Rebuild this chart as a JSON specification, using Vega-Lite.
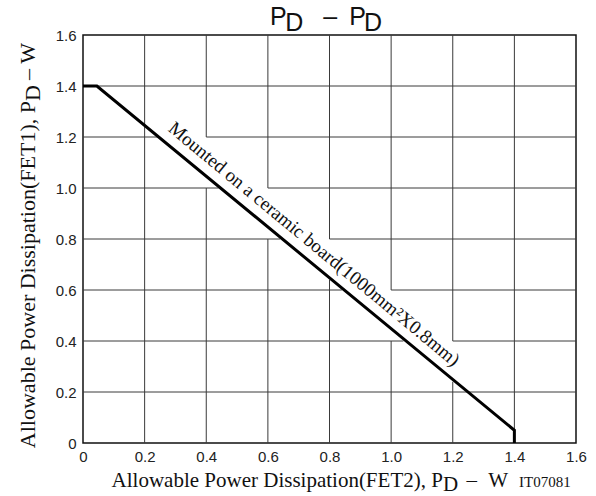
{
  "$schema": "https://vega.github.io/schema/vega-lite/v6.json",
  "width": 493,
  "height": 408,
  "autosize": "none",
  "padding": {"left": 83, "top": 35, "right": 20, "bottom": 53},
  "background": "white",
  "config": {
    "view": {"stroke": "#111", "strokeWidth": 1.5}
  },
  "datasets": {
    "grid": [
      {"x1": 0.2, "x2": 0.2, "y1": 0, "y2": 1.6},
      {"x1": 0.4, "x2": 0.4, "y1": 0, "y2": 1.0},
      {"x1": 0.4, "x2": 0.4, "y1": 1.2, "y2": 1.6},
      {"x1": 0.6, "x2": 0.6, "y1": 0, "y2": 0.8},
      {"x1": 0.6, "x2": 0.6, "y1": 1.0, "y2": 1.6},
      {"x1": 0.8, "x2": 0.8, "y1": 0, "y2": 0.64},
      {"x1": 0.8, "x2": 0.8, "y1": 0.8, "y2": 1.6},
      {"x1": 1.0, "x2": 1.0, "y1": 0, "y2": 0.4},
      {"x1": 1.0, "x2": 1.0, "y1": 0.6, "y2": 1.6},
      {"x1": 1.2, "x2": 1.2, "y1": 0, "y2": 0.24},
      {"x1": 1.2, "x2": 1.2, "y1": 0.4, "y2": 1.6},
      {"x1": 1.4, "x2": 1.4, "y1": 0, "y2": 1.6},
      {"x1": 0, "x2": 1.6, "y1": 0.2, "y2": 0.2},
      {"x1": 0, "x2": 1.04, "y1": 0.4, "y2": 0.4},
      {"x1": 1.2, "x2": 1.6, "y1": 0.4, "y2": 0.4},
      {"x1": 0, "x2": 0.84, "y1": 0.6, "y2": 0.6},
      {"x1": 1.0, "x2": 1.6, "y1": 0.6, "y2": 0.6},
      {"x1": 0, "x2": 0.64, "y1": 0.8, "y2": 0.8},
      {"x1": 0.8, "x2": 1.6, "y1": 0.8, "y2": 0.8},
      {"x1": 0, "x2": 0.44, "y1": 1.0, "y2": 1.0},
      {"x1": 0.6, "x2": 1.6, "y1": 1.0, "y2": 1.0},
      {"x1": 0, "x2": 0.25, "y1": 1.2, "y2": 1.2},
      {"x1": 0.4, "x2": 1.6, "y1": 1.2, "y2": 1.2},
      {"x1": 0, "x2": 1.6, "y1": 1.4, "y2": 1.4}
    ],
    "curve": [
      {"o": 1, "fet2": 0, "fet1": 1.4},
      {"o": 2, "fet2": 0.045, "fet1": 1.4},
      {"o": 3, "fet2": 1.4, "fet1": 0.05},
      {"o": 4, "fet2": 1.4, "fet1": 0}
    ],
    "one": [{}]
  },
  "layer": [
    {
      "data": {"name": "grid"},
      "mark": {"type": "rule", "color": "#3a3a3a", "strokeWidth": 1},
      "encoding": {
        "x": {
          "field": "x1", "type": "quantitative",
          "scale": {"domain": [0, 1.6], "nice": false},
          "axis": {
            "values": [0, 0.2, 0.4, 0.6, 0.8, 1.0, 1.2, 1.4, 1.6],
            "labelExpr": "datum.value == 0 ? '0' : format(datum.value, '.1f')",
            "ticks": false, "domain": false, "grid": false, "title": null,
            "labelFont": "Liberation Sans", "labelFontSize": 15, "labelColor": "#222",
            "labelPadding": 6, "labelFlush": false, "labelOverlap": false
          }
        },
        "x2": {"field": "x2"},
        "y": {
          "field": "y1", "type": "quantitative",
          "scale": {"domain": [0, 1.6], "nice": false},
          "axis": {
            "values": [0, 0.2, 0.4, 0.6, 0.8, 1.0, 1.2, 1.4, 1.6],
            "labelExpr": "datum.value == 0 ? '0' : format(datum.value, '.1f')",
            "ticks": false, "domain": false, "grid": false, "title": null,
            "labelFont": "Liberation Sans", "labelFontSize": 15, "labelColor": "#222",
            "labelPadding": 7, "labelFlush": false, "labelOverlap": false
          }
        },
        "y2": {"field": "y2"}
      }
    },
    {
      "data": {"name": "curve"},
      "mark": {"type": "line", "color": "#000", "strokeWidth": 3, "strokeJoin": "miter"},
      "encoding": {
        "x": {"field": "fet2", "type": "quantitative"},
        "y": {"field": "fet1", "type": "quantitative"},
        "order": {"field": "o"}
      }
    },
    {
      "data": {"name": "one"},
      "mark": {"type": "text", "text": "Mounted on a ceramic board(1000mm²X0.8mm)", "font": "Liberation Serif", "fontSize": 19, "angle": 39.6, "align": "center", "baseline": "middle", "color": "#111"},
      "encoding": {"x": {"datum": 0.75, "type": "quantitative"}, "y": {"datum": 0.78, "type": "quantitative"}}
    },
    {
      "data": {"name": "one"},
      "mark": {"type": "text", "text": "P", "font": "Liberation Sans", "fontSize": 25, "align": "left", "baseline": "alphabetic", "color": "#111"},
      "encoding": {"x": {"datum": 0.607, "type": "quantitative"}, "y": {"datum": 1.639, "type": "quantitative"}}
    },
    {
      "data": {"name": "one"},
      "mark": {"type": "text", "text": "D", "font": "Liberation Sans", "fontSize": 25, "align": "left", "baseline": "alphabetic", "color": "#111"},
      "encoding": {"x": {"datum": 0.656, "type": "quantitative"}, "y": {"datum": 1.616, "type": "quantitative"}}
    },
    {
      "data": {"name": "one"},
      "mark": {"type": "text", "text": "–", "font": "Liberation Sans", "fontSize": 25, "align": "center", "baseline": "alphabetic", "color": "#111"},
      "encoding": {"x": {"datum": 0.802, "type": "quantitative"}, "y": {"datum": 1.639, "type": "quantitative"}}
    },
    {
      "data": {"name": "one"},
      "mark": {"type": "text", "text": "P", "font": "Liberation Sans", "fontSize": 25, "align": "left", "baseline": "alphabetic", "color": "#111"},
      "encoding": {"x": {"datum": 0.864, "type": "quantitative"}, "y": {"datum": 1.639, "type": "quantitative"}}
    },
    {
      "data": {"name": "one"},
      "mark": {"type": "text", "text": "D", "font": "Liberation Sans", "fontSize": 25, "align": "left", "baseline": "alphabetic", "color": "#111"},
      "encoding": {"x": {"datum": 0.912, "type": "quantitative"}, "y": {"datum": 1.616, "type": "quantitative"}}
    },
    {
      "data": {"name": "one"},
      "mark": {"type": "text", "text": "Allowable Power Dissipation(FET2), P", "font": "Liberation Serif", "fontSize": 21, "align": "right", "baseline": "alphabetic", "color": "#111"},
      "encoding": {"x": {"datum": 1.168, "type": "quantitative"}, "y": {"datum": -0.1725, "type": "quantitative"}}
    },
    {
      "data": {"name": "one"},
      "mark": {"type": "text", "text": "D", "font": "Liberation Serif", "fontSize": 21, "align": "left", "baseline": "alphabetic", "color": "#111"},
      "encoding": {"x": {"datum": 1.168, "type": "quantitative"}, "y": {"datum": -0.19, "type": "quantitative"}}
    },
    {
      "data": {"name": "one"},
      "mark": {"type": "text", "text": "–", "font": "Liberation Serif", "fontSize": 21, "align": "center", "baseline": "alphabetic", "color": "#111"},
      "encoding": {"x": {"datum": 1.262, "type": "quantitative"}, "y": {"datum": -0.1725, "type": "quantitative"}}
    },
    {
      "data": {"name": "one"},
      "mark": {"type": "text", "text": "W", "font": "Liberation Serif", "fontSize": 21, "align": "left", "baseline": "alphabetic", "color": "#111"},
      "encoding": {"x": {"datum": 1.315, "type": "quantitative"}, "y": {"datum": -0.1725, "type": "quantitative"}}
    },
    {
      "data": {"name": "one"},
      "mark": {"type": "text", "text": "IT07081", "font": "Liberation Serif", "fontSize": 15, "align": "left", "baseline": "alphabetic", "color": "#111"},
      "encoding": {"x": {"datum": 1.415, "type": "quantitative"}, "y": {"datum": -0.1725, "type": "quantitative"}}
    },
    {
      "data": {"name": "one"},
      "mark": {"type": "text", "text": "Allowable Power Dissipation(FET1), P", "font": "Liberation Serif", "fontSize": 22, "angle": 270, "align": "right", "baseline": "alphabetic", "color": "#111"},
      "encoding": {"x": {"datum": -0.1558, "type": "quantitative"}, "y": {"datum": 1.341, "type": "quantitative"}}
    },
    {
      "data": {"name": "one"},
      "mark": {"type": "text", "text": "D", "font": "Liberation Serif", "fontSize": 22, "angle": 270, "align": "left", "baseline": "alphabetic", "color": "#111"},
      "encoding": {"x": {"datum": -0.1396, "type": "quantitative"}, "y": {"datum": 1.341, "type": "quantitative"}}
    },
    {
      "data": {"name": "one"},
      "mark": {"type": "text", "text": "– W", "font": "Liberation Serif", "fontSize": 22, "angle": 270, "align": "left", "baseline": "alphabetic", "color": "#111"},
      "encoding": {"x": {"datum": -0.1558, "type": "quantitative"}, "y": {"datum": 1.424, "type": "quantitative"}}
    }
  ]
}
